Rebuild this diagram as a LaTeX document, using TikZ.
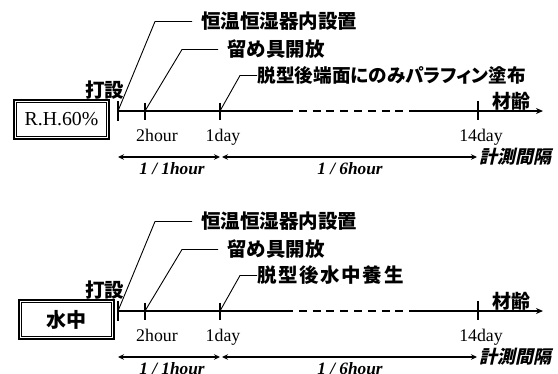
\documentclass[tikz,border=0pt]{standalone}
\usepackage{fontspec}
\setmainfont{Liberation Serif}
\newfontfamily\jp{Noto Sans CJK JP}[RawFeature=+palt]
\newfontfamily\jpsp{Noto Sans CJK JP}[LetterSpace=8]
\newfontfamily\jpsl{Noto Sans CJK JP}[FakeSlant=0.22]
\usetikzlibrary{arrows.meta,calc}
\tikzset{
  axisline/.style={line width=1.6pt},
  tickmark/.style={line width=1.3pt},
  leader/.style={line width=0.9pt},
  outerbox/.style={draw, line width=2pt, minimum width=95pt, minimum height=39pt, inner sep=0pt},
  jplabel/.style={font=\jp\bfseries\fontsize{19.5}{21}\selectfont, inner sep=0pt},
  ticklabel/.style={font=\fontsize{17.8}{19}\selectfont, inner sep=0pt, anchor=base},
  interval/.style={font=\bfseries\itshape\fontsize{17.3}{18}\selectfont, inner sep=0pt},
  dimarrow/.style={line width=1.1pt, {Stealth[length=6pt,width=5.5pt,inset=2pt]}-{Stealth[length=6pt,width=5.5pt,inset=2pt]}},
}
\newcommand\drawpanel[5]{%
\begin{scope}[shift={(0,#2)}]
  \node[outerbox] (#1box) at (#3,119.5) {#4};
  \draw[line width=0.8pt] ([shift={(3.5pt,-3.5pt)}]#1box.north west) rectangle ([shift={(-3.5pt,3.5pt)}]#1box.south east);
  % axis coordinates
  \coordinate (#1s) at (118,111);
  \coordinate (#1h) at (145,111);
  \coordinate (#1d) at (220,111);
  \coordinate (#1ds) at (285,111);
  \coordinate (#1de) at (410,111);
  \coordinate (#1f) at (478,111);
  \coordinate (#1e) at (543,111);
  \draw[axisline] (#1s) -- (#1ds);
  \draw[axisline, dash pattern=on 8pt off 5.8pt] (#1ds) -- (#1de);
  \draw[axisline, -{Stealth[length=7pt,width=6pt]}] (#1de) -- (#1e);
  % ticks
  \draw[tickmark] ([yshift=10pt]#1s) -- ([yshift=-10pt]#1s);
  \draw[tickmark] ([yshift=8.5pt]#1h) -- ([yshift=-8.5pt]#1h);
  \draw[tickmark] ([yshift=8.5pt]#1d) -- ([yshift=-8.5pt]#1d);
  \draw[tickmark] ([yshift=10pt]#1f) -- ([yshift=-9pt]#1f);
  % labels
  \node[jplabel] (#1pour) at (104.5,90) {打設};
  \node[jplabel, font=\jp\bfseries\fontsize{19}{21}\selectfont] (#1age) at (511,101.5) {材齢};
  \node[ticklabel] (#1lh) at (157,141) {2hour};
  \node[ticklabel] (#1ld) at (223,141) {1day};
  \node[ticklabel] (#1lf) at (481,141) {14day};
  % leaders
  \node[jplabel, anchor=west] (#1t1) at (201,21.5) {恒温恒湿器内設置};
  \node[jplabel, anchor=west] (#1t2) at (227,49.5) {留め具開放};
  \node[jplabel, anchor=west] (#1t3) at (257.5,75.5) {#5};
  \draw[leader] (#1s) -- (155,21.5) -- ([xshift=-9pt]#1t1.west);
  \draw[leader] (#1h) -- (182,49.5) -- ([xshift=-9pt]#1t2.west);
  \draw[leader] (#1d) -- (240,75.5) -- ([xshift=-0.5pt]#1t3.west);
  % intervals
  \coordinate (#1a1) at (118,157);
  \coordinate (#1a2) at (220,157);
  \coordinate (#1a3) at (222,157);
  \coordinate (#1a4) at (477,157);
  \draw[dimarrow] (#1a1) -- (#1a2);
  \draw[dimarrow] (#1a3) -- (#1a4);
  \node[interval] (#1i1) at (172,168.5) {1 / 1hour};
  \node[interval] (#1i2) at (350,168.5) {1 / 6hour};
  \node[inner sep=0pt, anchor=west, font=\jpsl\bfseries\fontsize{18}{20}\selectfont] (#1m) at (479,157) {計測間隔};
\end{scope}}
\begin{document}
\begin{tikzpicture}[x=1pt,y=-1pt]
  \useasboundingbox (0,0) rectangle (558,373);
  \drawpanel{p}{0}{61.5}{\fontsize{19.8}{21}\selectfont R.H.60\%}{\fontsize{18.6}{21}\selectfont 脱型後端面にのみパラフィン塗布}
  \drawpanel{q}{200}{66}{\jp\bfseries\fontsize{20}{22}\selectfont 水中}{\jpsp\bfseries 脱型後水中養生}
\end{tikzpicture}
\end{document}
